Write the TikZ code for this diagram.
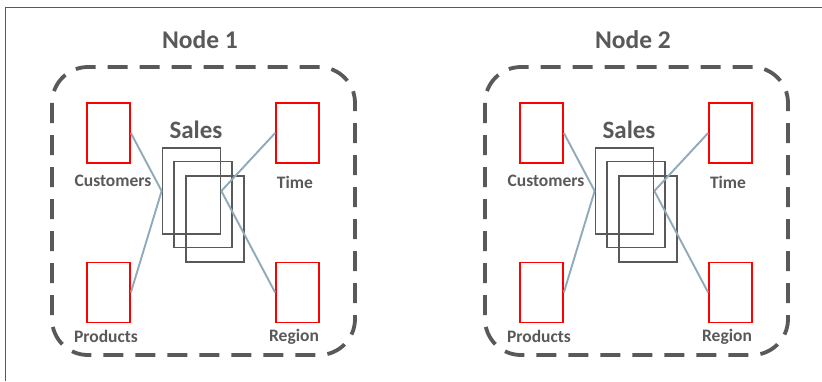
\documentclass[tikz,border=0pt]{standalone}
\usepackage{fontspec}
\setmainfont{Carlito}
\definecolor{txtgray}{HTML}{595959}
\definecolor{linkblue}{HTML}{8FAAB9}
\definecolor{dimred}{HTML}{FF0000}
\tikzset{
  dimbox/.style={draw=dimred, line width=1.7pt, minimum width=43pt, minimum height=60pt, inner sep=0pt},
  factbox/.style={draw=txtgray, line width=1.7pt, minimum width=58pt, minimum height=86pt, inner sep=0pt},
  dimlabel/.style={text=txtgray, font=\bfseries\fontsize{17.5}{20}\selectfont, inner sep=0pt},
  link/.style={draw=linkblue, line width=1.9pt},
  cluster/.style={draw=txtgray, line width=3.8pt, dash pattern=on 20pt off 12pt, rounded corners=36pt},
  title/.style={text=txtgray, font=\bfseries\fontsize{25.5}{28}\selectfont, inner sep=0pt}
}
% one star-schema cluster: #1 = name prefix, #2 = horizontal shift, #3 = heading
\newcommand\starcluster[3]{%
  \begin{scope}[xshift=#2]
    \node[title] (#1title) at (200,40) {#3};
    \draw[cluster] (52,67) rectangle (355,355);
    \node[dimbox] (#1cust) at (108.5,133) {};
    \node[dimbox] (#1time) at (297.5,133) {};
    \node[dimbox] (#1prod) at (108.5,292.5) {};
    \node[dimbox] (#1reg)  at (297.5,292.5) {};
    \node[dimlabel] (#1custlbl) at (113,181) {Customers};
    \node[dimlabel] (#1timelbl) at (295,182) {Time};
    \node[dimlabel] (#1prodlbl) at (106,336) {Products};
    \node[dimlabel] (#1reglbl)  at (294,337) {Region};
    \node[title, font=\bfseries\fontsize{25}{28}\selectfont] (#1saleslbl) at (196,130) {Sales};
    \node[factbox] (#1salesc) at (215,219) {};
    \node[factbox] (#1salesb) at (203,204.5) {};
    \node[factbox] (#1salesa) at (191.5,191) {};
    \draw[link] (#1cust.east) -- (#1salesa.west);
    \draw[link] (#1prod.east) -- (#1salesa.west);
    \draw[link] (#1time.west) -- (#1salesa.east);
    \draw[link] (#1reg.west)  -- (#1salesa.east);
  \end{scope}}
\begin{document}
\begin{tikzpicture}[x=1pt, y=-1pt]
  \useasboundingbox (0,0) rectangle (822,381);
  \fill[white] (0,0) rectangle (822,381);
  % frame: top and left edges only
  \draw[txtgray, line width=1.5pt] (5.5,381) -- (5.5,7.5) -- (822,7.5);
  \starcluster{a}{0pt}{Node 1}
  \starcluster{b}{433pt}{Node 2}
\end{tikzpicture}
\end{document}
